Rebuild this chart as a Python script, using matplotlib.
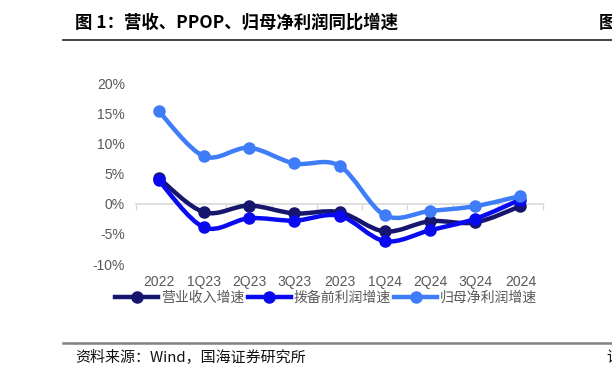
import numpy as np
import matplotlib
matplotlib.use("Agg")
import matplotlib.pyplot as plt
from matplotlib.path import Path
from matplotlib.patches import PathPatch
from matplotlib.lines import Line2D
from matplotlib.ticker import FuncFormatter

plt.rcParams['font.family'] = ['Noto Sans CJK SC', 'DejaVu Sans']

categories = ["2022", "1Q23", "2Q23", "3Q23", "2023", "1Q24", "2Q24", "3Q24", "2024"]
revenue = [4.3, -1.4, -0.3, -1.6, -1.4, -4.6, -2.9, -3.1, -0.4]
ppop = [3.9, -3.9, -2.4, -2.8, -2.0, -6.2, -4.4, -2.5, 0.7]
net_profit = [15.4, 7.9, 9.3, 6.7, 6.3, -1.9, -1.2, -0.4, 1.3]
series_names = ["营业收入增速", "拨备前利润增速", "归母净利润增速"]
yticks = [-10, -5, 0, 5, 10, 15, 20]

colors = ["#16166e", "#0a0af0", "#3f7cf7"]

W, H = 612, 382
fig = plt.figure(figsize=(W / 100, H / 100), dpi=100)
ax = fig.add_axes([136 / W, 1 - 264 / H, (543 - 136) / W, (264 - 83.3) / H])

def smooth_path(x, y):
    x = np.asarray(x, float)
    y = np.asarray(y, float)
    n = len(x)
    verts = [(x[0], y[0])]
    codes = [Path.MOVETO]
    for i in range(n - 1):
        x0, y0 = (x[i - 1], y[i - 1]) if i > 0 else (x[i], y[i])
        x3, y3 = (x[i + 2], y[i + 2]) if i + 2 < n else (x[i + 1], y[i + 1])
        c1 = (x[i] + (x[i + 1] - x0) / 6, y[i] + (y[i + 1] - y0) / 6)
        c2 = (x[i + 1] - (x3 - x[i]) / 6, y[i + 1] - (y3 - y[i]) / 6)
        verts += [c1, c2, (x[i + 1], y[i + 1])]
        codes += [Path.CURVE4] * 3
    return Path(verts, codes)

xs = np.arange(len(categories))
for vals, col, z in zip([revenue, ppop, net_profit], colors, [3, 4, 5]):
    patch = PathPatch(smooth_path(xs, vals), facecolor="none", edgecolor=col,
                      lw=3.2, capstyle="round", joinstyle="round", zorder=z)
    ax.add_patch(patch)
    ax.plot(xs, vals, linestyle="none", marker="o", ms=8, color=col, zorder=z)

ax.set_xlim(-0.5, len(categories) - 0.5)
ax.set_ylim(-10, 20)
ax.set_yticks(yticks)
ax.yaxis.set_major_formatter(FuncFormatter(lambda v, p: f"{v:.0f}%"))
ax.tick_params(axis="y", length=0, labelsize=10, labelcolor="#595959", pad=8)
for lab in ax.get_yticklabels():
    lab.set_fontfamily(["Liberation Sans", "DejaVu Sans"])
for s in ["left", "right", "top"]:
    ax.spines[s].set_visible(False)
ax.spines["bottom"].set_position(("data", 0))
ax.spines["bottom"].set_color("#d9d9d9")
ax.spines["bottom"].set_linewidth(1.2)
ax.set_xticks(np.arange(len(categories) + 1) - 0.5)
ax.set_xticklabels([])
ax.tick_params(axis="x", length=4, width=1.0, color="#d9d9d9", direction="out")

sec = ax.secondary_xaxis(0)
sec.set_xticks(xs, labels=categories)
sec.tick_params(axis="x", length=0, labelsize=10, labelcolor="#595959", pad=8)
sec.spines["bottom"].set_visible(False)
for lab in sec.get_xticklabels():
    lab.set_fontfamily(["Liberation Sans", "DejaVu Sans"])

handles = [Line2D([], [], color=c, lw=3.2, marker="o", ms=8) for c in colors]
leg = fig.legend(handles, series_names, loc="center", bbox_to_anchor=(326 / W, 1 - 298 / H),
                 ncol=3, frameon=False, fontsize=10, handlelength=3.1,
                 columnspacing=0.25, handletextpad=0.2, borderpad=0)
for t in leg.get_texts():
    t.set_color("#595959")

# header and footer
fig.text(75 / W, 1 - 23 / H, "图 1：营收、PPOP、归母净利润同比增速", fontsize=12.5,
         fontweight="bold", va="center", ha="left", color="#000000",
         family=["Noto Sans CJK SC", "DejaVu Sans"])
fig.text(599 / W, 1 - 23 / H, "图", fontsize=12.5, fontweight="bold", va="center", ha="left")
fig.add_artist(Line2D([63 / W, 1], [1 - 40 / H, 1 - 40 / H], color="#222222", lw=1.2,
                      transform=fig.transFigure))
fig.add_artist(Line2D([63 / W, 1], [1 - 342.5 / H, 1 - 342.5 / H], color="#808080", lw=1.8,
                      transform=fig.transFigure))
fig.text(75 / W, 1 - 358 / H, "资料来源：Wind，国海证券研究所", fontsize=10.8,
         va="center", ha="left", color="#111111")
fig.text(606 / W, 1 - 358 / H, "请", fontsize=10.8, va="center", ha="left", color="#111111")

fig.savefig("out.png", dpi=100)
